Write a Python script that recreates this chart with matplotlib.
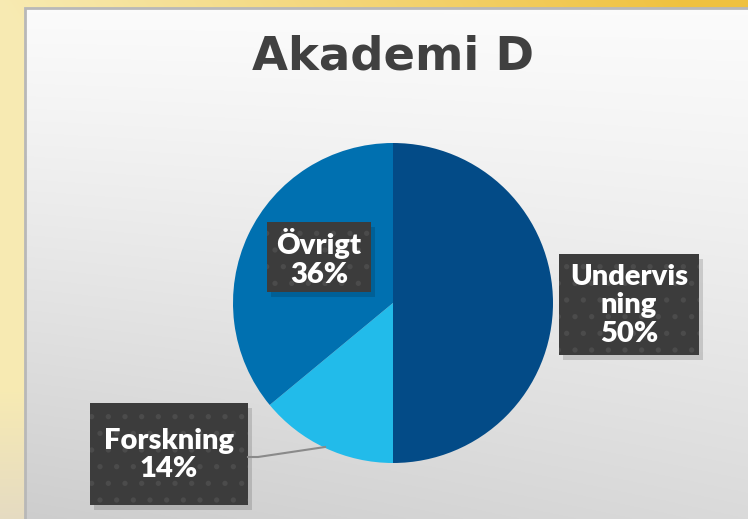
import matplotlib
matplotlib.use("Agg")
import matplotlib.pyplot as plt
from matplotlib.patches import Rectangle
import numpy as np

W, H = 748, 519

title = "Akademi D"
categories = ["Undervisning", "Forskning", "Övrigt"]
values = [50, 14, 36]
label_texts = ["Undervis\nning", "Forskning", "Övrigt"]
colors = ["#034b87", "#22bbea", "#0070b0"]

plt.rcParams['font.family'] = ['Lato', 'DejaVu Sans']
plt.rcParams['hatch.linewidth'] = 1.4


def fx(px):
    return px / W


def fy(py):
    return 1 - py / H


fig = plt.figure(figsize=(W / 100, H / 100), dpi=100)

# golden background behind the slide panel
bg = fig.add_axes([0, 0, 1, 1])
bg.set_axis_off()
xx, yy = np.meshgrid(np.linspace(0, 1, W), np.linspace(0, 1, H))
pale = np.array([0.97, 0.92, 0.70])
gold = np.array([0.94, 0.76, 0.25])
mix = np.clip(xx * 1.1 - yy * 0.5, 0, 1)[..., None]
img = pale * (1 - mix) + gold * mix
beige = np.array([0.90, 0.86, 0.76])
low = np.clip((yy - 0.75) * 4, 0, 1)[..., None]
img = img * (1 - low) + beige * low
bg.imshow(img, extent=[0, 1, 0, 1], aspect='auto')
bg.set_xlim(0, 1)
bg.set_ylim(0, 1)

# slide panel with soft gray gradient
px0, py0 = 25, 8
panel = fig.add_axes([fx(px0), 0, 1 - fx(px0), fy(py0)])
panel.set_axis_off()
gx, gy = np.meshgrid(np.linspace(0, 1, 300), np.linspace(0, 1, 300))
shade = 0.985 - 0.13 * gy ** 1.2 - 0.05 * (1 - gx) * gy
panel.imshow(np.dstack([shade] * 3), extent=[0, 1, 0, 1], aspect='auto',
             vmin=0, vmax=1)
panel.set_xlim(0, 1)
panel.set_ylim(0, 1)
fig.patches.append(Rectangle((fx(px0), -0.01), 1, fy(py0) + 0.01, transform=fig.transFigure,
                             fill=False, edgecolor="#b8b8b8", linewidth=2))

fig.text(fx(393), fy(57), title, ha='center', va='center', fontsize=33.5,
         fontweight='bold', color="#404040", family=['DejaVu Sans'])

# pie
cx, cy, r = 393, 303, 160
ax = fig.add_axes([fx(cx - r), fy(cy + r), 2 * r / W, 2 * r / H])
ax.pie(values, colors=colors, startangle=90, counterclock=False,
       wedgeprops=dict(linewidth=0))
ax.set_xlim(-1, 1)
ax.set_ylim(-1, 1)
ax.set_aspect('auto')
ax.set_axis_off()

# leader line for Forskning
fig.add_artist(plt.Line2D([fx(248), fx(258), fx(325)], [fy(457), fy(457), fy(447)],
                          transform=fig.transFigure, color="#8a8a8a", linewidth=1.5))

# data label boxes (x0, y0, x1, y1 in pixels)
boxes = [(559, 254, 699, 355), (90, 403, 248, 505), (267, 222, 371, 292)]
for name, val, (x0, y0, x1, y1) in zip(label_texts, values, boxes):
    fig.patches.append(Rectangle((fx(x0 + 4), fy(y1 + 5)), fx(x1 - x0), (y1 - y0) / H,
                                 transform=fig.transFigure, facecolor="#000000",
                                 alpha=0.14, edgecolor='none'))
    fig.patches.append(Rectangle((fx(x0), fy(y1)), fx(x1 - x0), (y1 - y0) / H,
                                 transform=fig.transFigure, facecolor="#3c3c3c",
                                 edgecolor="#4b4b4b", linewidth=0, hatch='.'))
    fig.text(fx((x0 + x1) / 2), fy((y0 + y1) / 2 + 1), f"{name}\n{val}%", ha='center',
             va='center', fontsize=21, fontweight='heavy', color='white',
             linespacing=1.1)

fig.savefig("out.png", dpi=100)
